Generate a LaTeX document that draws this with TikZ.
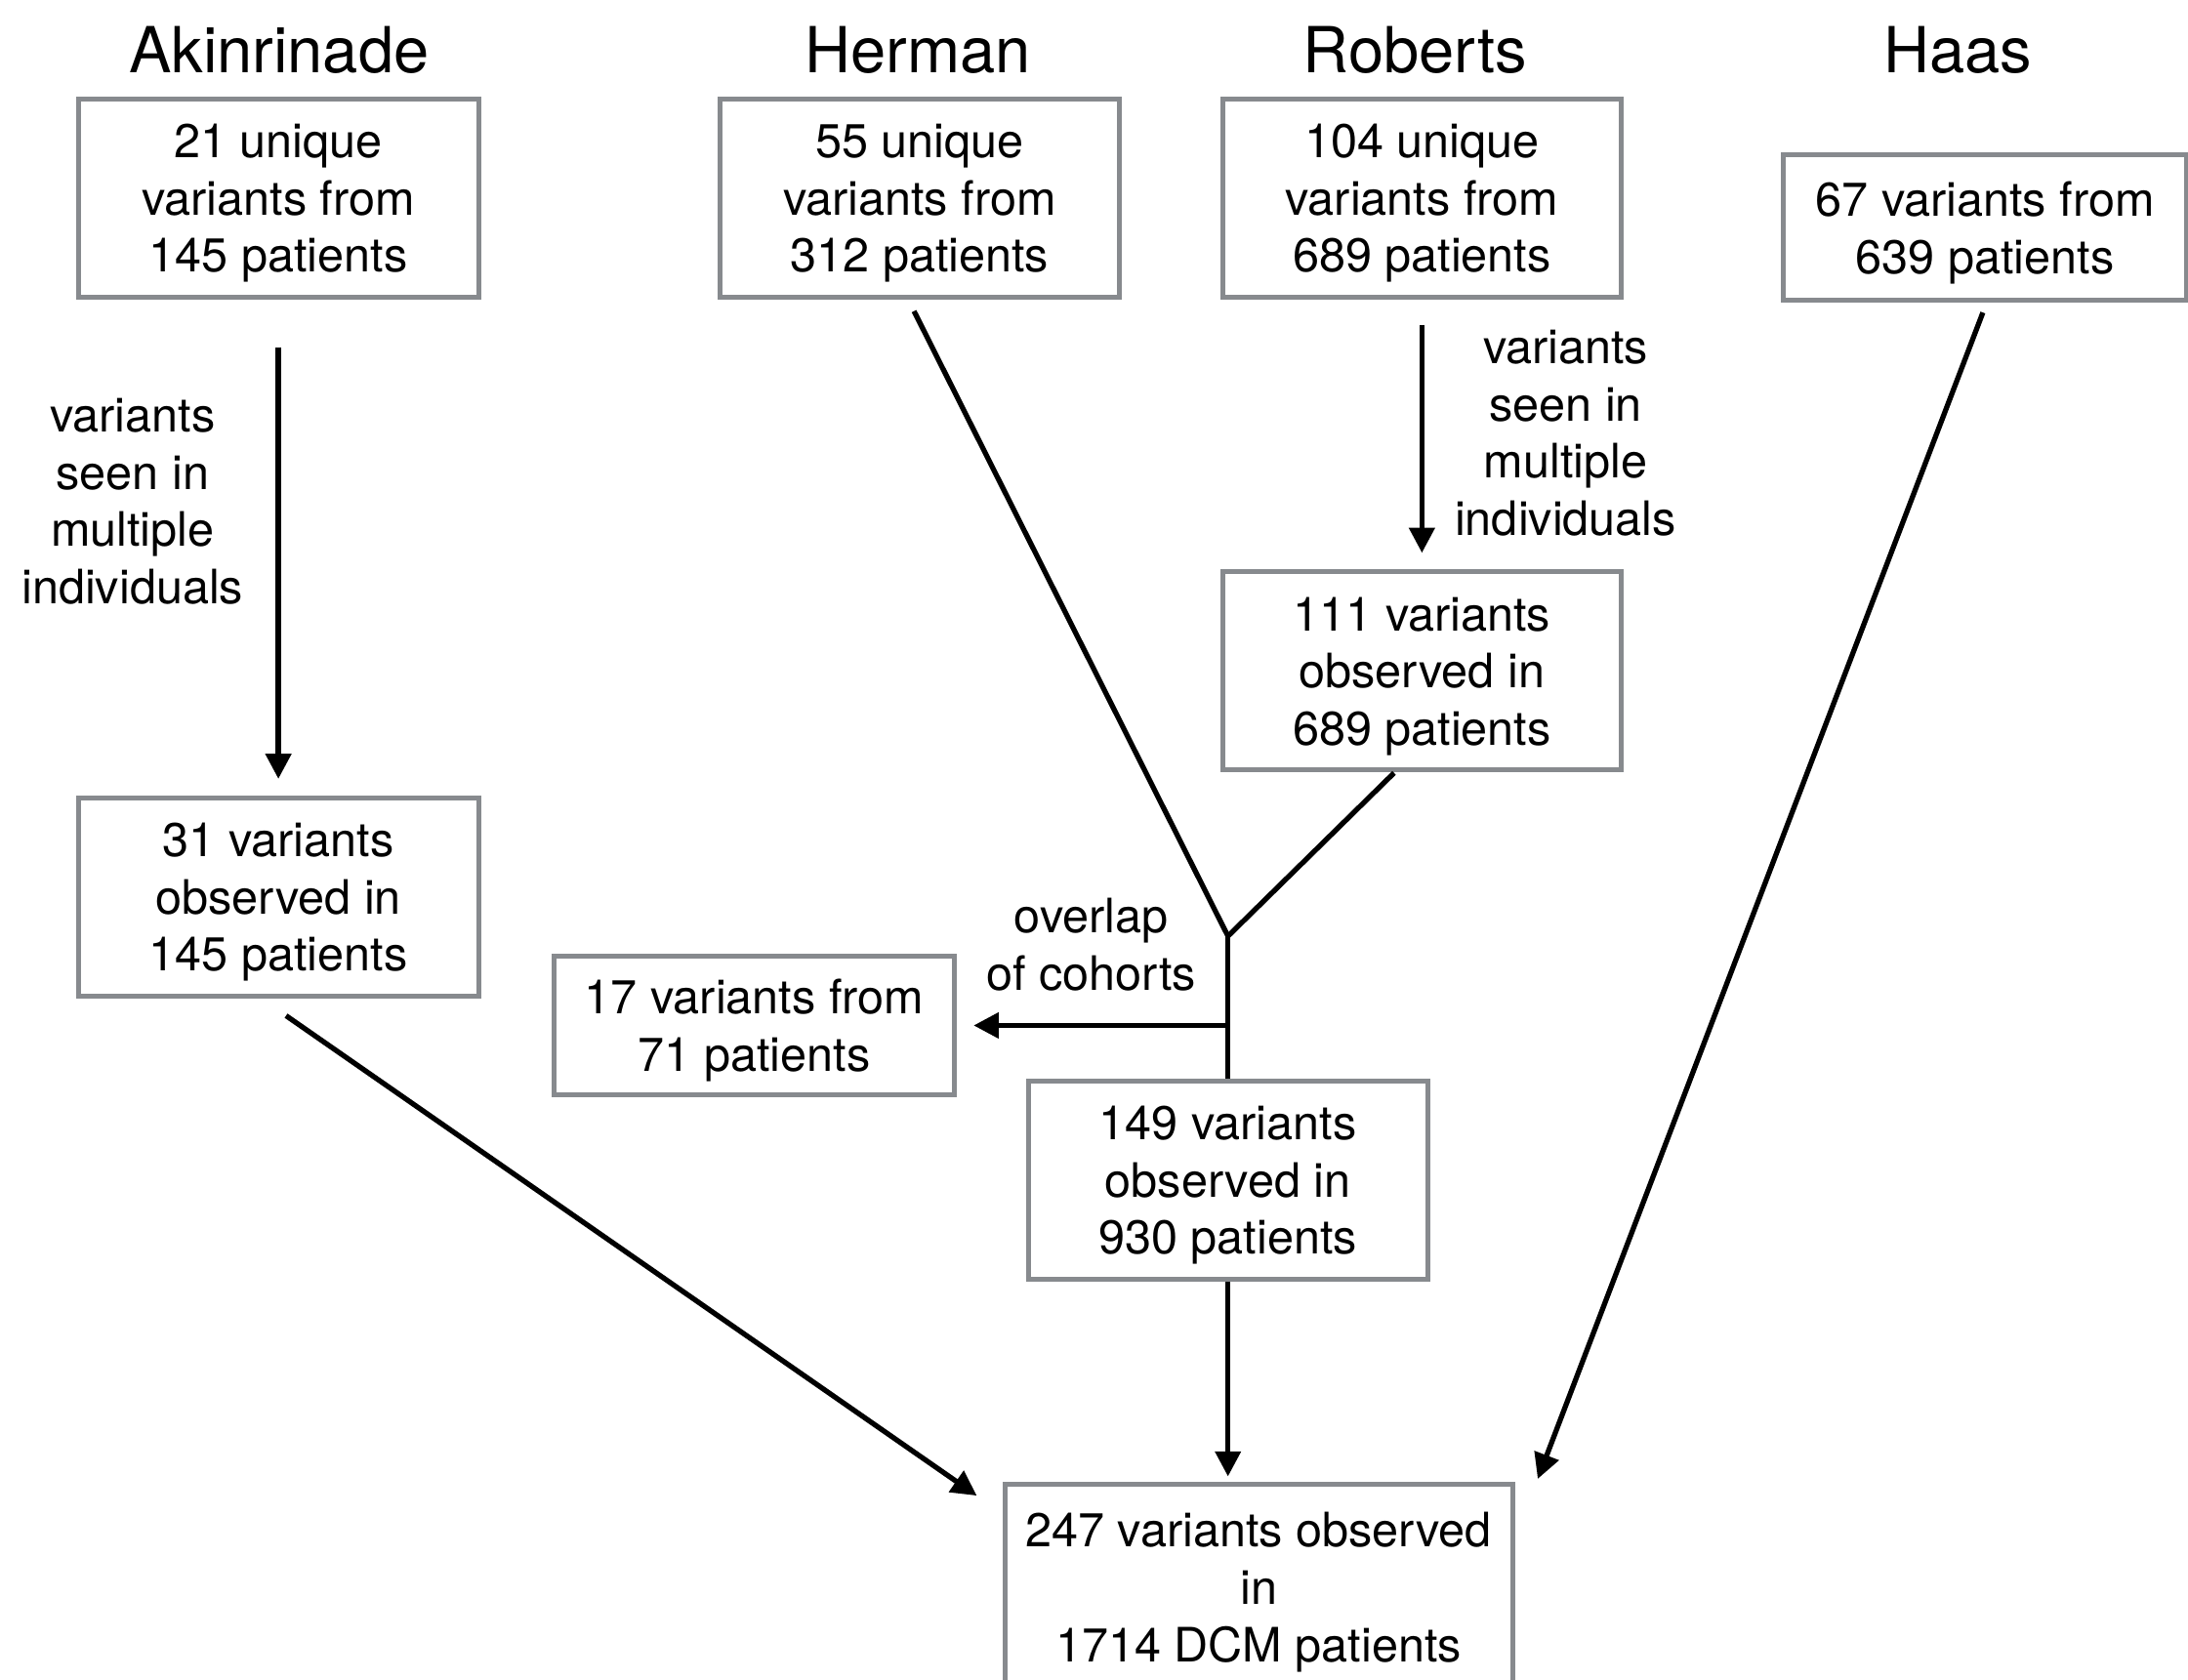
\documentclass[tikz,border=0pt]{standalone}
\usepackage{fontspec}
\setmainfont{TeX Gyre Heros}
\usetikzlibrary{arrows.meta}
\definecolor{boxgray}{HTML}{878A8E}
\begin{document}
\begin{tikzpicture}[x=1pt,y=-1pt,
  box/.style={draw=boxgray, line width=3.5pt, fill=white, inner sep=0pt, align=center,
              text depth=-12pt, font=\fontsize{34}{41}\selectfont},
  lbl/.style={align=center, inner sep=0pt, font=\fontsize{34}{41}\selectfont},
  ttl/.style={anchor=base, inner sep=0pt, font=\fontsize{45.5}{54}\selectfont},
  conn/.style={line width=3.7pt},
  arr/.style={line width=3.7pt, -{Triangle[length=18pt,width=18pt]}}]
\useasboundingbox[fill=white] (0,0) rectangle (1568,1204);

% titles
\node[ttl] (tA) at (200,52) {Akinrinade};
\node[ttl] (tH) at (658,52) {Herman};
\node[ttl] (tR) at (1014,52) {Roberts};
\node[ttl] (tS) at (1403,52) {Haas};

% boxes
\node[box, minimum width=287pt, minimum height=142pt] (A1) at (199.5,142) {21 unique\\variants from\\145 patients};
\node[box, minimum width=286pt, minimum height=142pt] (H1) at (659,142) {55 unique\\variants from\\312 patients};
\node[box, minimum width=286pt, minimum height=142pt] (R1) at (1019,142) {104 unique\\variants from\\689 patients};
\node[box, minimum width=289pt, minimum height=104pt] (S1) at (1422.5,163) {67 variants from\\639 patients};
\node[box, minimum width=287pt, minimum height=142pt] (A2) at (199.5,643) {31 variants\\observed in\\145 patients};
\node[box, minimum width=286pt, minimum height=142pt] (R2) at (1019,481) {111 variants\\observed in\\689 patients};
\node[box, minimum width=287pt, minimum height=100pt] (B17) at (540.5,735) {17 variants from\\71 patients};
\node[box, minimum width=286pt, minimum height=142pt] (B149) at (880,846) {149 variants\\observed in\\930 patients};
\node[box, minimum width=364pt, minimum height=147pt] (B247) at (902,1137.5) {247 variants observed\\in\\1714 DCM patients};

% labels
\node[lbl] (L1) at (95,359.5) {variants\\seen in\\multiple\\individuals};
\node[lbl] (L2) at (1122,310.5) {variants\\seen in\\multiple\\individuals};
\node[lbl] (L3) at (782,677) {overlap\\of cohorts};

% coordinates
\coordinate (J) at (880,671);
\coordinate (K) at (880,735);
\coordinate (Hout) at (655,223);
\coordinate (R2out) at (999,554);
\coordinate (A2out) at (205,728);
\coordinate (A2in) at (700,1072);
\coordinate (S1out) at (1421,224);
\coordinate (S1in) at (1102,1060);

% connectors
\draw[arr, shorten <=34pt, shorten >=12pt] (A1.south) -- (A2.north);
\draw[arr, shorten <=18pt, shorten >=12pt] (R1.south) -- (R2.north);
\draw[conn] (Hout) -- (J);
\draw[conn] (R2out) -- (J);
\draw[conn] (J) -- (B149.north);
\draw[arr, shorten >=12pt] (K) -- (B17.east);
\draw[arr, shorten >=4pt] (B149.south) -- (B247.north -| B149.south);
\draw[arr] (A2out) -- (A2in);
\draw[arr] (S1out) -- (S1in);
\end{tikzpicture}
\end{document}
